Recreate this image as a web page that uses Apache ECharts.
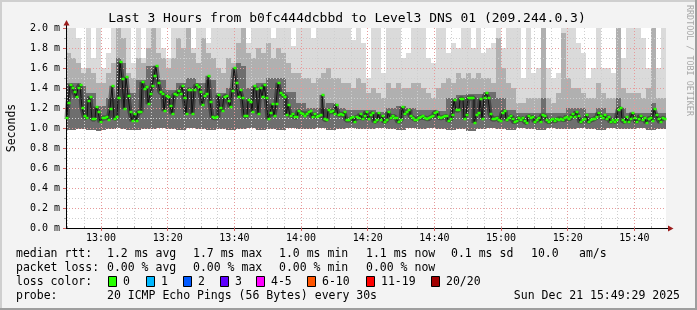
<!DOCTYPE html>
<html><head><meta charset="utf-8">
<script src="https://cdn.jsdelivr.net/npm/echarts@6/dist/echarts.min.js"></script>
<style>html,body{margin:0;padding:0;background:#f3f3f3}#c{width:697px;height:310px}</style>
</head><body><div id="c"></div>
<script>
// ---------------- data ----------------
const titleText = 'Last 3 Hours from b0fc444dcbbd to Level3 DNS 01 (209.244.0.3)';
const yAxisName = 'Seconds';
const sideText = 'RRDTOOL / TOBI OETIKER';
const startTime = [2025, 11, 21, 12, 49, 29];   // Y, M(0-based), D, h, m, s
const spanHours = 3;
const xTickLabels = ['13:00', '13:20', '13:40', '14:00', '14:20', '14:40', '15:00', '15:20', '15:40'];
const medianStepSec = 36;     // one median reading per 36 s
const smokeStepSec = 90;      // one smoke column per 90 s

// median RTT (ms), 300 readings
const medianRtt = [
1.10,1.25,1.43,1.40,1.36,1.31,1.40,1.43,1.20,1.12,
1.10,1.27,1.31,1.09,1.09,1.21,1.16,1.06,1.10,1.10,
1.11,1.08,1.19,1.42,1.09,1.11,1.30,1.66,1.49,1.19,
1.51,1.32,1.16,1.07,1.14,1.07,1.16,1.16,1.46,1.39,
1.41,1.24,1.34,1.42,1.52,1.62,1.45,1.36,1.34,1.17,
1.32,1.31,1.22,1.14,1.34,1.33,1.37,1.34,1.42,1.30,
1.14,1.38,1.38,1.14,1.38,1.43,1.41,1.36,1.23,1.32,
1.34,1.52,1.26,1.11,1.10,
1.11,1.33,1.20,1.17,1.31,1.32,1.27,1.21,1.37,1.60,
1.45,1.31,1.38,1.30,1.12,1.12,1.28,1.26,1.16,1.42,
1.39,1.14,1.40,1.31,1.43,1.30,1.09,1.15,1.24,1.12,
1.24,1.45,1.35,1.33,1.31,1.13,1.23,1.12,1.14,1.11,
1.11,1.17,1.15,1.14,1.12,1.14,1.16,1.17,1.11,1.14,
1.11,1.12,1.13,1.33,1.09,1.08,1.18,1.16,1.17,1.14,
1.23,1.13,1.14,1.13,1.16,1.08,1.08,1.10,1.11,1.06,
1.11,1.10,1.14,1.09,1.12,
1.16,1.09,1.13,1.15,1.06,1.08,1.15,1.08,1.12,1.06,
1.08,1.16,1.10,1.12,1.10,1.10,1.06,1.08,1.21,1.14,
1.16,1.18,1.12,1.10,1.08,1.08,1.10,1.11,1.12,1.10,
1.09,1.10,1.11,1.12,1.15,1.16,1.11,1.10,1.11,1.12,
1.12,1.07,1.09,1.13,1.28,1.18,1.18,1.29,1.29,1.09,
1.13,1.30,1.30,1.30,1.05,1.13,1.15,1.29,1.09,1.30,
1.35,1.30,1.14,1.09,1.09,1.10,1.08,1.07,1.15,1.17,
1.08,1.10,1.12,1.09,1.06,
1.07,1.10,1.08,1.10,1.07,1.05,1.12,1.10,1.11,1.06,
1.08,1.10,1.06,1.13,1.12,1.08,1.06,1.08,1.09,1.07,
1.09,1.08,1.09,1.08,1.10,1.11,1.09,1.11,1.14,1.11,
1.16,1.12,1.06,1.08,1.09,1.13,1.06,1.08,1.09,1.09,
1.11,1.15,1.12,1.10,1.13,1.09,1.11,1.06,1.08,1.06,
1.08,1.18,1.20,1.08,1.06,1.11,1.06,1.09,1.15,1.10,
1.06,1.09,1.12,1.08,1.10,1.05,1.09,1.10,1.07,1.19,
1.13,1.09,1.06,1.10,1.09
];

// smoke (ms) per 90-second column: lowest ping, top of dark core, top of medium grey, highest ping
const smokeLow = [
0.98,0.98,0.99,0.99,0.98,0.98,0.97,0.98,0.99,0.99,1.00,0.99,0.98,0.98,0.98,0.99,0.99,0.99,1.00,1.00,
0.99,0.99,0.98,0.98,1.00,1.00,0.99,0.99,0.98,0.98,0.99,0.99,0.98,0.98,0.99,0.99,1.00,1.00,0.98,0.98,
0.99,0.99,0.98,0.98,1.00,1.00,0.99,0.99,0.99,0.99,1.00,1.00,0.98,0.98,0.99,0.99,1.00,1.00,0.99,0.99,
0.99,0.99,1.00,1.00,0.99,0.99,0.98,0.98,1.00,1.00,0.99,0.99,1.00,1.00,0.99,0.99,0.98,0.98,0.99,0.99,
0.97,0.97,0.99,0.99,1.00,1.00,0.99,0.99,0.98,0.98,1.00,1.00,0.99,0.99,0.98,0.98,1.00,1.00,0.99,0.99,
0.99,0.99,1.00,1.00,0.99,0.99,0.98,0.98,1.00,1.00,0.99,0.99,0.99,0.99,1.00,1.00,0.98,0.98,0.99,0.99
];
const smokeDark = [
1.45,1.45,1.45,1.42,1.35,1.35,1.22,1.22,1.30,1.30,1.70,1.65,1.35,1.35,1.48,1.48,1.62,1.62,1.48,1.48,
1.38,1.38,1.45,1.45,1.50,1.50,1.45,1.45,1.48,1.48,1.35,1.35,1.40,1.40,1.65,1.62,1.40,1.40,1.45,1.45,
1.50,1.50,1.50,1.50,1.36,1.36,1.25,1.25,1.20,1.20,1.20,1.20,1.25,1.25,1.20,1.20,1.18,1.18,1.18,1.18,
1.18,1.18,1.16,1.16,1.20,1.20,1.22,1.22,1.20,1.20,1.18,1.18,1.18,1.18,1.17,1.17,1.30,1.30,1.33,1.33,
1.34,1.34,1.34,1.34,1.36,1.36,1.30,1.30,1.18,1.18,1.15,1.15,1.15,1.15,1.15,1.30,1.15,1.15,1.15,1.15,
1.20,1.20,1.20,1.20,1.15,1.15,1.20,1.20,1.15,1.15,1.30,1.20,1.15,1.15,1.15,1.15,1.15,1.25,1.15,1.15
];
const smokeMid = [
1.75,1.70,1.65,1.55,1.60,1.55,1.45,1.45,1.55,1.65,2.00,1.90,1.55,1.50,1.70,1.65,1.80,2.00,1.75,1.70,
1.60,1.70,1.90,1.80,2.00,1.75,1.65,1.90,1.75,1.70,1.60,1.55,1.70,1.65,1.85,2.00,1.75,1.70,1.80,1.75,
1.85,1.70,1.80,1.75,1.65,1.55,1.55,1.50,1.50,1.45,1.50,1.55,1.60,1.50,1.50,1.45,1.45,1.40,1.50,1.45,
1.35,1.40,1.35,1.30,1.45,1.40,1.45,1.40,1.40,1.45,1.45,1.40,1.35,1.30,1.40,1.45,1.50,1.45,1.55,1.50,
1.55,1.50,1.55,1.50,1.50,1.45,1.90,1.60,1.45,1.40,1.25,1.25,1.30,1.30,1.30,2.00,1.30,1.25,1.35,1.95,
1.50,1.40,1.40,1.35,1.30,1.30,1.45,1.35,1.30,1.30,2.00,1.40,1.35,1.35,1.35,1.30,1.40,2.00,1.30,1.30
];
const smokeHigh = [
2.00,2.00,1.90,1.60,2.00,1.70,2.00,1.60,1.75,2.00,2.00,2.00,2.00,1.65,2.00,1.70,2.00,2.00,2.00,1.80,
1.70,2.00,2.00,2.00,2.00,1.80,2.00,2.00,1.85,2.00,2.00,2.00,2.00,2.00,2.00,2.00,1.85,2.00,2.00,2.00,
2.00,1.90,2.00,2.00,2.00,1.82,2.00,2.00,2.00,1.90,2.00,2.00,2.00,2.00,2.00,2.00,2.00,1.88,2.00,1.85,
1.50,2.00,2.00,1.55,2.00,2.00,2.00,1.70,1.75,2.00,2.00,2.00,1.70,1.65,2.00,2.00,1.75,1.85,1.80,2.00,
2.00,1.80,2.00,1.75,1.80,1.85,2.00,1.80,2.00,2.00,2.00,1.50,2.00,1.55,1.60,2.00,1.60,1.50,1.55,2.00,
2.00,2.00,1.85,1.75,1.50,1.60,2.00,1.60,1.60,1.55,2.00,1.70,2.00,2.00,2.00,1.90,1.60,2.00,1.60,2.00
];

const statLabels = ['median rtt:', 'packet loss:', 'loss color:', 'probe:'];
const rttStats = ['1.2 ms avg', '1.7 ms max', '1.0 ms min', '1.1 ms now', '0.1 ms sd', '10.0', 'am/s'];
const lossStats = ['0.00 % avg', '0.00 % max', '0.00 % min', '0.00 % now'];
const lossLabels = ['0', '1', '2', '3', '4-5', '6-10', '11-19', '20/20'];
const lossColors = ['#26ff00', '#00b8ff', '#0059ff', '#5e00ff', '#ff00ff', '#ff5500', '#ff0000', '#a10000'];
const probeText = '20 ICMP Echo Pings (56 Bytes) every 30s';
const stampText = 'Sun Dec 21 15:49:29 2025';

// ---------------- layout ----------------
const F = 'DejaVu Sans Mono';
const MIN = 60000;
const START = new Date(...startTime).getTime();
const END = START + spanHours * 3600000;
const rttX = [107, 193, 279, 366, 451, 531, 579];
const lossX = [107, 193, 279, 366];
const boxX = [108, 146, 183, 220, 256, 307, 366, 431];
const rowY = [254, 268, 282, 296];

const atTime = s => { const p = s.split(':'); return new Date(startTime[0], startTime[1], startTime[2], +p[0], +p[1], 0).getTime(); };
const majorTicks = xTickLabels.map(atTime);
const minorTicks = [];
for (let t = atTime('12:50'); t < END; t += 5 * MIN) minorTicks.push(t);

const medianData = medianRtt.map((v, i) => [START + (i + 0.5) * medianStepSec * 1000, v]);
const smokeData = smokeLow.map((v, k) => [START + (k + 0.5) * smokeStepSec * 1000, v, smokeDark[k], smokeMid[k], smokeHigh[k]]);

const pad = n => (n < 10 ? '0' : '') + n;
const fmtTime = v => { const d = new Date(v); return pad(d.getHours()) + ':' + pad(d.getMinutes()); };

function txt(x, y, s, extra) {
  return { type: 'text', x: x, y: y, silent: true, z: 10,
    style: Object.assign({ text: s, font: '11.5px "' + F + '"', fill: '#000', align: 'left', verticalAlign: 'middle' }, extra || {}) };
}

const graphics = [
  { type: 'rect', shape: { x: 0, y: 0, width: 697, height: 2 }, style: { fill: '#cfcfcf' }, silent: true },
  { type: 'rect', shape: { x: 0, y: 0, width: 2, height: 310 }, style: { fill: '#cfcfcf' }, silent: true },
  { type: 'rect', shape: { x: 0, y: 308, width: 697, height: 2 }, style: { fill: '#9e9e9e' }, silent: true },
  { type: 'rect', shape: { x: 695, y: 0, width: 2, height: 310 }, style: { fill: '#9e9e9e' }, silent: true },
  txt(347, 19, titleText, { font: '13px "' + F + '"', align: 'center' }),
  { type: 'text', x: 689, y: 5, rotation: -Math.PI / 2, silent: true,
    style: { text: sideText, font: '8.4px "' + F + '"', fill: '#a8a8a8', align: 'left', verticalAlign: 'middle' } },
  { type: 'line', shape: { x1: 66.5, y1: 24, x2: 66.5, y2: 28 }, style: { stroke: '#000', lineWidth: 1 }, silent: true },
  { type: 'polygon', shape: { points: [[63.5, 25.5], [69.5, 25.5], [66.5, 20]] }, style: { fill: '#9b1c1c' }, silent: true },
  { type: 'line', shape: { x1: 666, y1: 228.5, x2: 669, y2: 228.5 }, style: { stroke: '#000', lineWidth: 1 }, silent: true },
  { type: 'polygon', shape: { points: [[668, 225.5], [668, 231.5], [673.5, 228.5]] }, style: { fill: '#9b1c1c' }, silent: true }
];
statLabels.forEach((s, r) => graphics.push(txt(16, rowY[r], s)));
rttStats.forEach((s, i) => graphics.push(txt(rttX[i], rowY[0], s)));
lossStats.forEach((s, i) => graphics.push(txt(lossX[i], rowY[1], s)));
lossLabels.forEach((s, i) => {
  graphics.push({ type: 'rect', silent: true, z: 10, shape: { x: boxX[i] + 0.5, y: rowY[2] - 5.5, width: 8, height: 10 },
    style: { fill: lossColors[i], stroke: '#000', lineWidth: 1 } });
  graphics.push(txt(boxX[i] + 15, rowY[2], s));
});
graphics.push(txt(107, rowY[3], probeText));
graphics.push(txt(680, rowY[3], stampText, { align: 'right' }));

const chart = echarts.init(document.getElementById('c'), null, { renderer: 'canvas' });
chart.setOption({
  animation: false,
  backgroundColor: '#f3f3f3',
  grid: { left: 66, top: 28, width: 600, height: 200, show: true, backgroundColor: '#ffffff', borderWidth: 0,
    containLabel: false, outerBoundsMode: 'none' },
  xAxis: [
    { type: 'value', min: START, max: END, z: 4,
      axisLine: { show: true, onZero: false, lineStyle: { color: '#000', width: 1 } },
      axisTick: { show: true, length: 3, customValues: majorTicks, lineStyle: { color: '#d06060' } },
      axisLabel: { customValues: majorTicks, formatter: fmtTime, fontFamily: F, fontSize: 10, color: '#000', margin: 5, hideOverlap: false },
      splitLine: { show: true, lineStyle: { color: '#e69a9a', width: 1, type: [1, 2] } } },
    { type: 'value', min: START, max: END, position: 'bottom', z: 3,
      axisLine: { show: false }, axisLabel: { show: false, customValues: minorTicks },
      axisTick: { show: true, inside: true, length: 2, customValues: minorTicks, lineStyle: { color: '#aaa' } },
      splitLine: { show: true, lineStyle: { color: '#cfcfcf', width: 1, type: [1, 2] } } }
  ],
  yAxis: {
    type: 'value', min: 0, max: 2.0, interval: 0.2, z: 4,
    name: yAxisName, nameLocation: 'middle', nameGap: 48, nameRotate: 90,
    nameTextStyle: { fontFamily: F, fontSize: 11.5, color: '#000' },
    axisLine: { show: true, lineStyle: { color: '#000', width: 1 } },
    axisTick: { show: true, length: 3, lineStyle: { color: '#d06060' } },
    axisLabel: { formatter: v => v.toFixed(1) + ' m', fontFamily: F, fontSize: 10, color: '#000', margin: 6 },
    splitLine: { show: true, showMaxLine: false, lineStyle: { color: '#e69a9a', width: 1, type: [1, 2] } },
    minorTick: { show: true, splitNumber: 2, length: 2, lineStyle: { color: '#aaa' } },
    minorSplitLine: { show: true, lineStyle: { color: '#cfcfcf', width: 1, type: [1, 2] } }
  },
  series: [
    { type: 'custom', name: 'smoke', data: smokeData, clip: true, z: 1, silent: true,
      encode: { x: 0, y: [1, 2, 3, 4] },
      renderItem: function (params, api) {
        const t = api.value(0);
        const w = api.size([smokeStepSec * 1000, 0])[0];
        const pLo = api.coord([t, api.value(1)]);
        const pDk = api.coord([t, api.value(2)]);
        const pMd = api.coord([t, api.value(3)]);
        const pHi = api.coord([t, api.value(4)]);
        const x0 = pLo[0] - w / 2;
        return { type: 'group', children: [
          { type: 'rect', shape: { x: x0, y: pHi[1], width: w, height: pLo[1] - pHi[1] }, style: { fill: '#dadada' } },
          { type: 'rect', shape: { x: x0, y: pMd[1], width: w, height: pLo[1] - pMd[1] }, style: { fill: '#b0b0b0' } },
          { type: 'rect', shape: { x: x0, y: pDk[1], width: w, height: pLo[1] - pDk[1] }, style: { fill: '#6e6e6e' } }
        ] };
      } },
    { type: 'line', name: 'core', data: medianData, step: 'middle', symbol: 'none', z: 2, silent: true,
      lineStyle: { color: 'rgba(25,25,25,0.5)', width: 5 } },
    { type: 'line', name: 'median', data: medianData, step: 'middle', z: 5, silent: true,
      symbol: 'rect', symbolSize: [3, 2.5], showSymbol: true, showAllSymbol: true,
      itemStyle: { color: '#26ff00' }, lineStyle: { color: '#111', width: 1 } }
  ],
  graphic: graphics
});
</script>
</body></html>
